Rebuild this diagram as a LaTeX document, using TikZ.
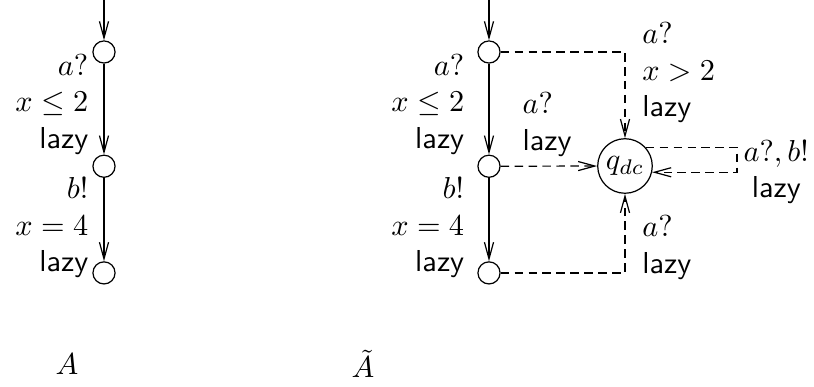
\documentclass[tikz,border=0pt]{standalone}
\usepackage{amsmath}
\usetikzlibrary{arrows.meta,positioning}
\newcommand{\lz}{\textsf{lazy}}

\begin{document}
\begin{tikzpicture}[x=0.33pt,y=-0.33pt,
  loc/.style={circle,draw,minimum size=7.3pt,inner sep=0pt},
  dcloc/.style={circle,draw,minimum size=18pt,inner sep=0pt},
  lbl/.style={inner sep=1pt},
  arr/.style={-{Straight Barb[length=5.5pt,width=3pt]}},
  darr/.style={arr,dash pattern=on 2.8pt off 1.8pt}
]
  \useasboundingbox (0,0) rectangle (814,387);

  % ---------------- A ----------------
  \coordinate (i1) at (104,0);
  \node[loc] (a1) at (104,52) {};
  \node[loc,below=30pt of a1] (a2) {};
  \node[loc,below=27.5pt of a2] (a3) {};

  \draw[arr] (i1) -- (a1);
  \draw[arr] (a1) -- node[lbl,left=4pt,align=right,pos=0.45]
    {$a?$\\$x\le 2$\\\lz} (a2);
  \draw[arr] (a2) -- node[lbl,left=4pt,align=right,pos=0.6]
    {$b!$\\$x=4$\\\lz} (a3);

  % ---------------- A tilde ----------------
  \coordinate (i2) at (489,0);
  \node[loc] (b1) at (489,52) {};
  \node[loc,below=30pt of b1] (b2) {};
  \node[loc,below=27.5pt of b2] (b3) {};
  \node[dcloc] (dc) at (625,166) {$q_{dc}$};
  \coordinate (lp) at (737,160);

  \draw[arr] (i2) -- (b1);
  \draw[arr] (b1) -- node[lbl,left=7pt,align=right,pos=0.45]
    {$a?$\\$x\le 2$\\\lz} (b2);
  \draw[arr] (b2) -- node[lbl,left=7pt,align=right,pos=0.6]
    {$b!$\\$x=4$\\\lz} (b3);

  \draw[darr] (b1) -| node[lbl,right=4.5pt,align=left,pos=0.62]
    {$a?$\\$x>2$\\\lz} (dc);
  \draw[darr] (b2) -- node[lbl,above=2pt,anchor=south west,align=left,pos=0.19]
    {$a?$\\\lz} (dc);
  \draw[darr] (b3) -| node[lbl,right=4.5pt,align=left,pos=0.66]
    {$a?$\\\lz} (dc);
  \draw[darr] (dc.42) -| (lp) |- (dc.-13);
  \node[lbl,right=1pt of lp,yshift=-4pt,align=center] (lpl) {$a?,b!$\\\lz};

  % ---------------- captions ----------------
  \node (capA) at (67,364) {$A$};
  \node (capB) at (363,364) {$\tilde{A}$};
\end{tikzpicture}
\end{document}
